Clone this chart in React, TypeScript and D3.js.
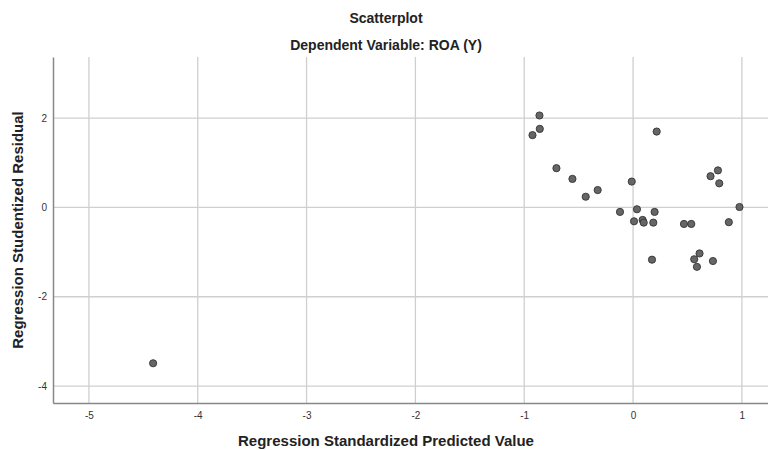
import { useEffect, useRef } from "react";
import * as d3 from "d3";

// predicted (x) and studentized residual (y) values
const predicted = [
  -4.41, -0.86, -0.857, -0.924, 0.217, -0.704, -0.557, -0.435, -0.325, -0.012,
  -0.12, 0.036, 0.198, 0.009, 0.088, 0.098, 0.186, 0.468, 0.535, 0.712,
  0.78, 0.792, 0.978, 0.88, 0.174, 0.611, 0.562, 0.587, 0.734,
];
const residual = [
  -3.49, 2.06, 1.76, 1.62, 1.7, 0.88, 0.64, 0.24, 0.39, 0.58,
  -0.1, -0.04, -0.1, -0.31, -0.28, -0.34, -0.34, -0.37, -0.37, 0.7,
  0.83, 0.54, 0.01, -0.33, -1.17, -1.03, -1.16, -1.33, -1.2,
];
const xTicks = [-5, -4, -3, -2, -1, 0, 1];
const yTicks = [-4, -2, 0, 2];

export default function App() {
  const ref = useRef<SVGSVGElement>(null);

  useEffect(() => {
    if (!ref.current) return;
    const svg = d3.select(ref.current);
    svg.selectAll("*").remove();

    const W = 768;
    const H = 450;
    const m = { top: 57, right: 0, bottom: 47, left: 53 };
    const w = W - m.left - m.right;
    const h = H - m.top - m.bottom;

    const x = d3.scaleLinear().domain([-5.33, 1.24]).range([0, w]);
    const y = d3.scaleLinear().domain([-4.38, 3.37]).range([h, 0]);

    const font = "Arial, 'Liberation Sans', sans-serif";
    const fmt = (d: d3.NumberValue) => String(d);

    svg.append("rect").attr("width", W).attr("height", H).attr("fill", "#fff");

    // titles
    svg
      .append("text")
      .attr("x", 386)
      .attr("y", 23)
      .attr("text-anchor", "middle")
      .attr("font-family", font)
      .attr("font-weight", "bold")
      .attr("font-size", 14)
      .attr("fill", "#222")
      .text("Scatterplot");
    svg
      .append("text")
      .attr("x", 386)
      .attr("y", 50)
      .attr("text-anchor", "middle")
      .attr("font-family", font)
      .attr("font-weight", "bold")
      .attr("font-size", 14)
      .attr("fill", "#222")
      .text("Dependent Variable: ROA (Y)");

    const g = svg.append("g").attr("transform", `translate(${m.left},${m.top})`);

    // grid
    g.selectAll(".vgrid")
      .data(xTicks)
      .join("line")
      .attr("x1", (d) => x(d))
      .attr("x2", (d) => x(d))
      .attr("y1", 0)
      .attr("y2", h)
      .attr("stroke", "#cfcfcf")
      .attr("stroke-width", 1.3);
    g.selectAll(".hgrid")
      .data(yTicks)
      .join("line")
      .attr("x1", 0)
      .attr("x2", w)
      .attr("y1", (d) => y(d))
      .attr("y2", (d) => y(d))
      .attr("stroke", "#cfcfcf")
      .attr("stroke-width", 1.3);

    // axes
    g.append("g")
      .attr("transform", `translate(0,${h})`)
      .call(
        d3.axisBottom(x).tickValues(xTicks).tickFormat(fmt).tickSize(0).tickPadding(9),
      )
      .call((a) => {
        a.select(".domain").attr("stroke", "#888").attr("stroke-width", 1.5);
        a.selectAll("text")
          .attr("font-family", font)
          .attr("font-size", 10)
          .attr("fill", "#333");
      });
    g.append("g")
      .call(
        d3.axisLeft(y).tickValues(yTicks).tickFormat(fmt).tickSize(0).tickPadding(6),
      )
      .call((a) => {
        a.select(".domain").attr("stroke", "#888").attr("stroke-width", 1.5);
        a.selectAll("text")
          .attr("font-family", font)
          .attr("font-size", 10)
          .attr("fill", "#333");
      });

    // axis labels
    svg
      .append("text")
      .attr("x", 386)
      .attr("y", 446)
      .attr("text-anchor", "middle")
      .attr("font-family", font)
      .attr("font-weight", "bold")
      .attr("font-size", 15)
      .attr("fill", "#222")
      .text("Regression Standardized Predicted Value");
    svg
      .append("text")
      .attr("transform", "rotate(-90)")
      .attr("x", -230)
      .attr("y", 23)
      .attr("text-anchor", "middle")
      .attr("font-family", font)
      .attr("font-weight", "bold")
      .attr("font-size", 15)
      .attr("fill", "#222")
      .text("Regression Studentized Residual");

    // dots
    g.selectAll("circle")
      .data(predicted.map((p, i) => [p, residual[i]]))
      .join("circle")
      .attr("cx", (d) => x(d[0]))
      .attr("cy", (d) => y(d[1]))
      .attr("r", 3.6)
      .attr("fill", "#666")
      .attr("stroke", "#333")
      .attr("stroke-width", 0.9);
  }, []);

  return (
    <div style={{ position: "absolute", left: 0, top: 0 }}>
      <svg ref={ref} width={768} height={450} style={{ display: "block" }} />
    </div>
  );
}
